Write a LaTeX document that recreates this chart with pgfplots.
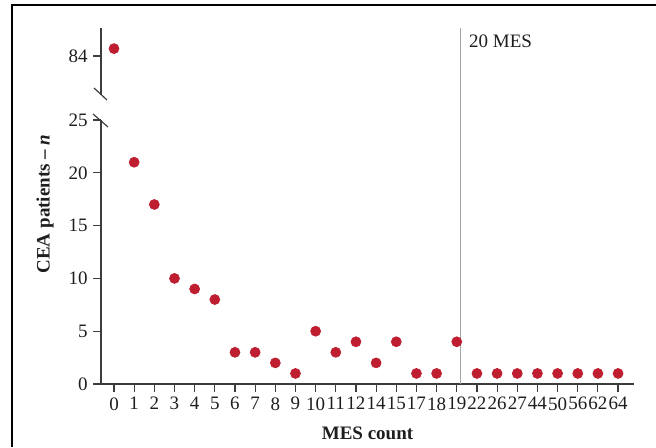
\documentclass[border=0pt]{standalone}
\usepackage{fontspec}
\setmainfont{Liberation Serif}
\usepackage{pgfplots}
\pgfplotsset{compat=1.18}
\definecolor{dotred}{RGB}{190,30,48}
\definecolor{axgray}{RGB}{60,60,60}
\definecolor{refgray}{RGB}{165,165,165}
\definecolor{txt}{RGB}{30,30,30}

\pgfplotsset{
  brk/.style={
    scale only axis,
    width=319.8pt,
    xmin=-0.645, xmax=25.79,
    axis line style={-, axgray, line width=0.7pt},
    tick style={axgray, line width=0.7pt},
    tick align=outside,
    major tick length=4.5pt,
    /pgf/number format/assume math mode=true,
    ticklabel style={font=\fontsize{11.4}{13}\selectfont, text=txt},
  },
  dots/.style={only marks, mark=*, mark size=3pt, color=dotred},
}

\begin{document}
\begin{tikzpicture}
\useasboundingbox (0,0) rectangle (393.6pt,268.2pt);
\draw[line width=1pt, black] (7.2pt,0) -- (7.2pt,265.2pt) -- (393.6pt,265.2pt);

% lower part, 0 to 25
\begin{axis}[brk,
  at={(60.6pt,37.8pt)}, anchor=south west,
  height=158.4pt,
  ymin=0, ymax=25,
  ytick={0,5,...,25},
  xtick={0,...,25},
  xticklabels={0,1,2,3,4,5,6,7,8,9,10,11,12,14,15,17,18,19,22,26,27,44,50,56,62,64},
  axis x line*=bottom, axis y line*=left,
  clip=false,
  xlabel={\textbf{MES count}},
  ylabel={\textbf{CEA patients -- \textit{n}}},
  every axis x label/.style={at={(axis description cs:0.5,0)}, anchor=center,
    yshift=-29.4pt, font=\fontsize{11.4}{13}\selectfont, text=txt},
  every axis y label/.style={at={(axis description cs:0,0.5)}, rotate=90, anchor=center,
    yshift=33.6pt, xshift=28.8pt, font=\fontsize{11.4}{13}\selectfont, text=txt},
]
\draw[refgray, line width=0.8pt] (axis cs:17.2,0) -- (axis cs:17.2,33.7);
\node[anchor=west, inner sep=0pt, xshift=4.8pt, text=txt, font=\fontsize{11.4}{13}\selectfont] at (axis cs:17.2,32.5) {20 MES};
\addplot[dots] coordinates {
  (1,21) (2,17) (3,10) (4,9) (5,8) (6,3) (7,3) (8,2) (9,1) (10,5)
  (11,3) (12,4) (13,2) (14,4) (15,1) (16,1) (17,4)
  (18,1) (19,1) (20,1) (21,1) (22,1) (23,1) (24,1) (25,1)
};
\end{axis}

% upper part, around 84
\begin{axis}[brk,
  at={(60.6pt,211.2pt)}, anchor=south west,
  height=40.2pt,
  ymin=80.31, ymax=86.65,
  ytick={84},
  axis y line*=left, axis x line=none,
  clip=false,
]
\addplot[dots] coordinates {(0,84.7)};
\end{axis}

% break marks
\draw[axgray, line width=0.7pt] (56.4pt,215.4pt) -- (64.2pt,208.2pt);
\draw[axgray, line width=0.7pt] (55.8pt,199.8pt) -- (64.8pt,192pt);
\end{tikzpicture}
\end{document}
